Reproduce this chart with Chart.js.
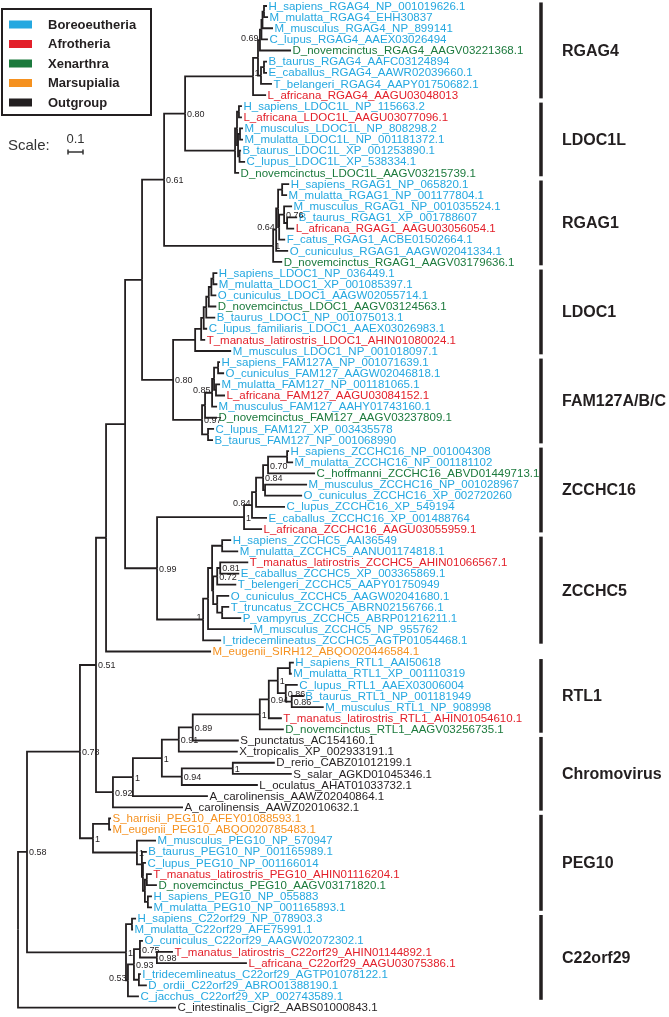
<!DOCTYPE html>
<html>
<head>
<meta charset="utf-8">
<script src="https://cdn.jsdelivr.net/npm/chart.js@4.4.0/dist/chart.umd.min.js"></script>
<style>
html, body { margin: 0; padding: 0; background: #fff; }
#wrap { position: relative; width: 669px; height: 1017px; }
</style>
</head>
<body>
<div id="wrap"><canvas id="tree"></canvas></div>
<script>
// legend groups, species are matched on the first two parts of the leaf name
var groupNames = ['Boreoeutheria', 'Afrotheria', 'Xenarthra', 'Marsupialia', 'Outgroup'];
var afrotheria = ['L_africana', 'T_manatus'];
var xenarthra = ['D_novemcinctus', 'C_hoffmanni'];
var marsupialia = ['M_eugenii', 'S_harrisii'];
var outgroup = ['S_punctatus', 'X_tropicalis', 'D_rerio', 'S_salar', 'L_oculatus', 'A_carolinensis', 'C_intestinalis'];

// bracketed families on the right: first and last leaf of each
var cladeNames = ['RGAG4', 'LDOC1L', 'RGAG1', 'LDOC1', 'FAM127A/B/C', 'ZCCHC16', 'ZCCHC5', 'RTL1', 'Chromovirus', 'PEG10', 'C22orf29'];
var cladeFirst = ['H_sapiens_RGAG4_NP_001019626.1', 'H_sapiens_LDOC1L_NP_115663.2', 'H_sapiens_RGAG1_NP_065820.1',
	'H_sapiens_LDOC1_NP_036449.1', 'H_sapiens_FAM127A_NP_001071639.1', 'H_sapiens_ZCCHC16_NP_001004308',
	'H_sapiens_ZCCHC5_AAI36549', 'H_sapiens_RTL1_AAI50618', 'S_punctatus_AC154160.1',
	'S_harrisii_PEG10_AFEY01088593.1', 'H_sapiens_C22orf29_NP_078903.3'];
var cladeLast = ['L_africana_RGAG4_AAGU03048013', 'D_novemcinctus_LDOC1L_AAGV03215739.1', 'D_novemcinctus_RGAG1_AAGV03179636.1',
	'M_musculus_LDOC1_NP_001018097.1', 'B_taurus_FAM127_NP_001068990', 'L_africana_ZCCHC16_AAGU03055959.1',
	'I_tridecemlineatus_ZCCHC5_AGTP01054468.1', 'D_novemcinctus_RTL1_AAGV03256735.1', 'A_carolinensis_AAWZ02010632.1',
	'M_mulatta_PEG10_NP_001165893.1', 'C_jacchus_C22orf29_XP_002743589.1'];

// subtrees (newick, branch lengths in substitutions/site, support as node label)
var rgag4 = '((((((H_sapiens_RGAG4_NP_001019626.1:0.020,M_mulatta_RGAG4_EHH30837:0.027):0.010,M_musculus_RGAG4_NP_899141:0.070):0.007,C_lupus_RGAG4_AAEX03026494:0.043):0.010,D_novemcinctus_RGAG4_AAGV03221368.1:0.207)0.69:0.013,((B_taurus_RGAG4_AAFC03124894:0.020,E_caballus_RGAG4_AAWR02039660.1:0.020):0.020,T_belangeri_RGAG4_AAPY01750682.1:0.073)1:0.020):0.033,L_africana_RGAG4_AAGU03048013:0.087)';
var ldoc1l = '(((H_sapiens_LDOC1L_NP_115663.2:0.020,L_africana_LDOC1L_AAGU03077096.1:0.020):0.013,((M_musculus_LDOC1L_NP_808298.2:0.020,M_mulatta_LDOC1L_NP_001181372.1:0.020):0.013,(B_taurus_LDOC1L_XP_001253890.1:0.010,C_lupus_LDOC1L_XP_538334.1:0.037):0.010):0.007):0.013,D_novemcinctus_LDOC1L_AAGV03215739.1:0.027)';
var rgag1 = '((((H_sapiens_RGAG1_NP_065820.1:0.047,M_mulatta_RGAG1_NP_001177804.1:0.033):0.027,((M_musculus_RGAG1_NP_001035524.1:0.053,(B_taurus_RGAG1_XP_001788607:0.067,L_africana_RGAG1_AAGU03056054.1:0.047):0.020)0.76:0.033,F_catus_RGAG1_ACBE01502664.1:0.040):0.007):0.013,O_cuniculus_RGAG1_AAGW02041334.1:0.080)0.64:0.020,D_novemcinctus_RGAG1_AAGV03179636.1:0.060)1';
var ldoc1 = '(((((((H_sapiens_LDOC1_NP_036449.1:0.027,M_mulatta_LDOC1_XP_001085397.1:0.027):0.013,O_cuniculus_LDOC1_AAGW02055714.1:0.033):0.017,D_novemcinctus_LDOC1_AAGV03124563.1:0.050):0.017,B_taurus_LDOC1_NP_001075013.1:0.060):0.017,C_lupus_familiaris_LDOC1_AAEX03026983.1:0.023):0.017,T_manatus_latirostris_LDOC1_AHIN01080024.1:0.027):0.040,M_musculus_LDOC1_NP_001018097.1:0.240)';
var fam127 = '(((((H_sapiens_FAM127A_NP_001071639.1:0.013,O_cuniculus_FAM127_AAGW02046818.1:0.040):0.027,(M_mulatta_FAM127_NP_001181065.1:0.027,L_africana_FAM127_AAGU03084152.1:0.060):0.013):0.013,M_musculus_FAM127_AAHY01743160.1:0.033)0.85:0.047,D_novemcinctus_FAM127_AAGV03237809.1:0.080):0.020,(C_lupus_FAM127_XP_003435578:0.040,B_taurus_FAM127_NP_001068990:0.033):0.040)0.97';
var zcchc16 = '((((((H_sapiens_ZCCHC16_NP_001004308:0.013,M_mulatta_ZCCHC16_NP_001181102:0.040):0.127,C_hoffmanni_ZCCHC16_ABVD01449713.1:0.313)0.70:0.033,(M_musculus_ZCCHC16_NP_001028967:0.280,O_cuniculus_ZCCHC16_XP_002720260:0.247):0.013)0.84:0.047,C_lupus_ZCCHC16_XP_549194:0.193):0.027,E_caballus_ZCCHC16_XP_001488764:0.100)0.84:0.053,L_africana_ZCCHC16_AAGU03055959.1:0.120)1';
var zcchc5 = '((((H_sapiens_ZCCHC5_AAI36549:0.060,M_mulatta_ZCCHC5_AANU01174818.1:0.107):0.067,(((T_manatus_latirostris_ZCCHC5_AHIN01066567.1:0.187,E_caballus_ZCCHC5_XP_003365869.1:0.127)0.81:0.020,T_belengeri_ZCCHC5_AAPY01750949:0.127)0.72:0.027,(O_cuniculus_ZCCHC5_AAGW02041680.1:0.080,(T_truncatus_ZCCHC5_ABRN02156766.1:0.047,P_vampyrus_ZCCHC5_ABRP01216211.1:0.127):0.033):0.027):0.007):0.027,M_musculus_ZCCHC5_NP_955762:0.293):0.033,I_tridecemlineatus_ZCCHC5_AGTP01054468.1:0.120)1';
var rtl1 = '((((H_sapiens_RTL1_AAI50618:0.027,M_mulatta_RTL1_XP_001110319:0.013):0.080,(C_lupus_RTL1_AAEX03006004:0.080,(B_taurus_RTL1_NP_001181949:0.080,M_musculus_RTL1_NP_908998:0.213)0.86:0.040)0.86:0.053)1:0.060,T_manatus_latirostris_RTL1_AHIN01054610.1:0.087)0.94:0.060,D_novemcinctus_RTL1_AAGV03256735.1:0.160)1';
var peg10 = '((S_harrisii_PEG10_AFEY01088593.1:0.013,M_eugenii_PEG10_ABQO020785483.1:0.013):0.107,(M_musculus_PEG10_NP_570947:0.127,(B_taurus_PEG10_NP_001165989.1:0.033,(C_lupus_PEG10_NP_001166014:0.020,((T_manatus_latirostris_PEG10_AHIN01116204.1:0.033,D_novemcinctus_PEG10_AAGV03171820.1:0.067):0.013,(H_sapiens_PEG10_NP_055883:0.027,M_mulatta_PEG10_NP_001165893.1:0.027):0.020):0.013):0.007):0.033)1:0.293)1';
var c22orf29 = '((H_sapiens_C22orf29_NP_078903.3:0.027,M_mulatta_C22orf29_AFE75991.1:0.007):0.040,(((O_cuniculus_C22orf29_AAGW02072302.1:0.020,(T_manatus_latirostris_C22orf29_AHIN01144892.1:0.107,L_africana_C22orf29_AAGU03075386.1:0.600)0.98:0.113)0.75:0.040,(I_tridecemlineatus_C22orf29_AGTP01078122.1:0.013,D_ordii_C22orf29_ABRO01388190.1:0.053):0.033)0.93:0.040,C_jacchus_C22orf29_XP_002743589.1:0.073)0.53:0.013)1';

// backbone joining the families
var treeText = '(((((((((' + rgag4 + ':0.453,' + ldoc1l + ':0.333)0.80:0.140,' + rgag1 + ':0.727)0.61:0.147,(' +
	ldoc1 + ':0.147,' + fam127 + ':0.193)0.80:0.207):0.113,(' + zcchc16 + ':0.580,' + zcchc5 + ':0.307)0.99:0.213):0.127,' +
	'M_eugenii_SIRH12_ABQO020446584.1:0.700):0.067,(((((' + rtl1 + ':0.447,S_punctatus_AC154160.1:0.307)0.89:0.093,' +
	'X_tropicalis_XP_002933191.1:0.393)0.91:0.113,((D_rerio_CABZ01012199.1:0.280,S_salar_AGKD01045346.1:0.393)1:0.340,' +
	'L_oculatus_AHAT01033732.1:0.507)0.94:0.133)1:0.193,A_carolinensis_AAWZ02040864.1:0.500)1:0.133,' +
	'A_carolinensis_AAWZ02010632.1:0.467)0.92:0.113)0.51:0.107,' + peg10 + ':0.087)0.78:0.353,' + c22orf29 + ':0.660)0.58:0.060,' +
	'C_intestinalis_Cigr2_AABS01000843.1:1.053);';

var scaleBarLength = 0.1;

var groupColours = ['#25a8e0', '#e3202a', '#1c7a3d', '#f5911f', '#231f20'];
var lineColour = '#231f20';
var labelFont = '"Liberation Sans", Arial, sans-serif';

// support values drawn on the left of their node (keyed by leaf range)
var leftSupport = ['0-4', '5-7', '16-22', '32-36', '40-46', '48-57', '84-89'];

function parseNewick(s)
{
	var i = 0;
	function readNode()
	{
		var node = { children: [], name: '', len: 0 };
		if (s[i] == '(')
		{
			i++;
			node.children.push(readNode());
			while (s[i] == ',') { i++; node.children.push(readNode()); }
			i++;
		}
		while (i < s.length && ':,);'.indexOf(s[i]) < 0) node.name += s[i++];
		if (s[i] == ':')
		{
			i++;
			var num = '';
			while (i < s.length && ',);'.indexOf(s[i]) < 0) num += s[i++];
			node.len = parseFloat(num);
		}
		return node;
	}
	return readNode();
}

var leaves = [];
var internals = [];

function layout(node, depth)
{
	node.x = depth + node.len;
	if (node.children.length == 0)
	{
		node.y = leaves.length;
		node.first = node.last = leaves.length;
		leaves.push(node);
		return;
	}
	node.children.forEach(function (c) { layout(c, node.x); });
	var a = node.children[0], b = node.children[node.children.length - 1];
	node.y = (a.y + b.y) / 2;
	node.first = a.first;
	node.last = b.last;
	internals.push(node);
}

function groupOf(name)
{
	var sp = name.split('_').slice(0, 2).join('_');
	if (afrotheria.indexOf(sp) >= 0) return 1;
	if (xenarthra.indexOf(sp) >= 0) return 2;
	if (marsupialia.indexOf(sp) >= 0) return 3;
	if (outgroup.indexOf(sp) >= 0) return 4;
	return 0;
}

var root = parseNewick(treeText);
root.len = 0;
layout(root, 0);

function leafIndex(name)
{
	for (var k = 0; k < leaves.length; k++)
		if (leaves[k].name == name) return k;
	return -1;
}

// one elbow per branch
var datasets = [];
internals.forEach(function (node)
{
	node.children.forEach(function (c)
	{
		datasets.push({
			data: [{ x: node.x, y: node.y }, { x: node.x, y: c.y }, { x: c.x, y: c.y }],
			showLine: true,
			borderColor: lineColour,
			borderWidth: 1.8,
			borderJoinStyle: 'miter',
			borderCapStyle: 'butt',
			pointRadius: 0,
			fill: false
		});
	});
});

var textPlugin = {
	id: 'treeText',
	afterDatasetsDraw: function (chart)
	{
		var ctx = chart.ctx;
		var xs = chart.scales.x;
		var ys = chart.scales.y;
		ctx.save();

		// leaf names
		ctx.font = '11.5px ' + labelFont;
		ctx.textBaseline = 'middle';
		ctx.textAlign = 'left';
		leaves.forEach(function (leaf)
		{
			ctx.fillStyle = groupColours[groupOf(leaf.name)];
			ctx.fillText(leaf.name, xs.getPixelForValue(leaf.x) + 1.5, ys.getPixelForValue(leaf.y) + 0.5);
		});

		// support values
		ctx.font = '9px ' + labelFont;
		ctx.fillStyle = lineColour;
		internals.forEach(function (node)
		{
			if (node.name === '') return;
			var px = xs.getPixelForValue(node.x);
			var py = ys.getPixelForValue(node.y);
			if (leftSupport.indexOf(node.first + '-' + node.last) >= 0)
			{
				ctx.textAlign = 'right';
				ctx.fillText(node.name, px - 1.5, py - 2);
			}
			else
			{
				ctx.textAlign = 'left';
				ctx.fillText(node.name, px + 2, py + 1);
			}
		});

		// family brackets
		var barX = chart.chartArea.right - 128;
		ctx.strokeStyle = lineColour;
		ctx.lineWidth = 3.5;
		ctx.textAlign = 'left';
		ctx.font = 'bold 16px ' + labelFont;
		cladeNames.forEach(function (name, k)
		{
			var y1 = ys.getPixelForValue(leafIndex(cladeFirst[k]) - 0.32);
			var y2 = ys.getPixelForValue(leafIndex(cladeLast[k]) + 0.3);
			ctx.beginPath();
			ctx.moveTo(barX, y1);
			ctx.lineTo(barX, y2);
			ctx.stroke();
			ctx.fillText(name, barX + 21, (y1 + y2) / 2 + 1);
		});

		// legend box
		ctx.lineWidth = 2;
		ctx.strokeRect(2, 9, 149, 106);
		ctx.font = 'bold 13px ' + labelFont;
		groupNames.forEach(function (name, k)
		{
			var ry = 24.5 + k * 19.5;
			ctx.fillStyle = groupColours[k];
			ctx.fillRect(9, ry - 4, 23, 8);
			ctx.fillStyle = lineColour;
			ctx.fillText(name, 48, ry + 0.5);
		});

		// scale bar
		var sx = 68;
		var sw = xs.getPixelForValue(scaleBarLength) - xs.getPixelForValue(0);
		ctx.fillStyle = '#333';
		ctx.font = '15px ' + labelFont;
		ctx.fillText('Scale:', 8, 146);
		ctx.font = '13px ' + labelFont;
		ctx.textAlign = 'center';
		ctx.fillText(String(scaleBarLength), sx + sw / 2, 139);
		ctx.lineWidth = 1.5;
		ctx.strokeStyle = '#333';
		ctx.beginPath();
		ctx.moveTo(sx, 152); ctx.lineTo(sx + sw, 152);
		ctx.moveTo(sx, 149.5); ctx.lineTo(sx, 154.5);
		ctx.moveTo(sx + sw, 149.5); ctx.lineTo(sx + sw, 154.5);
		ctx.stroke();

		ctx.restore();
	}
};

var treeChart = new Chart(document.getElementById('tree').getContext('2d'), {
	type: 'scatter',
	data: { datasets: datasets },
	options: {
		responsive: true,
		maintainAspectRatio: false,
		animation: false,
		layout: { padding: 0 },
		plugins: { legend: { display: false }, tooltip: { enabled: false } },
		elements: { line: { tension: 0 }, point: { radius: 0 } },
		scales: {
			x: { type: 'linear', display: false, min: -0.12, max: 4.34 },
			y: { type: 'linear', display: false, min: -0.54, max: 90.845, reverse: true }
		}
	},
	plugins: [textPlugin]
});
</script>
</body>
</html>
